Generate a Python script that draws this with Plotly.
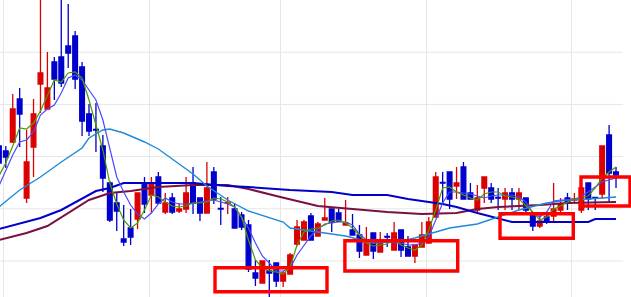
import plotly.graph_objects as go

# ---- data (price units are arbitrary; the chart shows no axis labels) ----
candle_idx = list(range(-1, 89))

opens = [154, 149, 158, 201, 102, 153, 216, 191, 238, 243,
         254, 264, 233, 186, 170.5, 154, 117, 97, 61, 72,
         81, 117, 105, 123, 88, 102, 89, 91, 117, 102,
         87, 128, 91.5, 97, 91, 85, 75, 27, 17, 29,
         37, 19, 26, 56, 60, 84, 64, 80, 91, 87,
         75, 70, 65, 45, 67, 48, 63.5, 50, 70, 53,
         44, 53, 57, 83, 117.5, 128, 114, 133, 107, 90,
         112, 112, 102.5, 101, 107, 101, 102, 85, 74, 83,
         84, 90, 102, 100, 90, 117, 102.5, 106, 165, 128]
highs = [157, 154, 206, 212, 170, 201, 303, 248, 243, 303,
         296, 269, 238, 196, 197, 165, 119, 108, 95, 91,
         107, 123, 123, 128, 107, 107, 97, 123, 133, 102,
         138, 133, 103, 103, 97, 88, 80, 40, 39, 40,
         37, 29, 47, 80, 80, 87, 78, 102, 91, 91,
         100, 86, 75, 73, 67, 68, 67, 78, 70, 64,
         55, 78, 83, 128, 128, 128, 133, 138, 117, 115,
         123, 117, 112, 112, 112, 112, 102, 85, 86, 87,
         117, 102, 107, 107, 112, 117, 103, 154, 175, 133]
lows = [135, 132, 157, 153, 97, 123, 187, 190, 200, 213,
        232, 211, 164, 164, 148, 108, 78, 69, 54, 55,
        71, 87, 87, 96, 86, 86, 87, 87, 86, 79,
        87, 96, 75, 86, 72, 70, 28, 14, 17, 2,
        13, 13, 26, 54, 60, 60, 64, 80, 68, 78,
        75, 65, 42, 45, 41, 48, 53, 50, 43, 44,
        37, 53, 57, 83, 95, 91, 101, 101, 101, 87,
        97, 97, 90, 90, 90, 90, 85, 69, 72, 76,
        77, 85, 90, 97, 87, 90, 90, 101, 97, 112]
closes = [137, 143, 191, 186, 138, 186, 227, 212, 221, 217,
          247, 221, 179, 169, 170, 122, 80, 89, 58, 63,
          107, 96, 117, 97, 97, 88, 91, 107, 97, 87,
          112, 101, 91, 97.5, 72, 73, 31, 22, 39, 27,
          19, 27, 45, 73, 78, 60, 76, 82, 78, 79,
          77, 65, 49, 57, 49, 57, 63, 67, 50, 44,
          55, 65, 78, 123, 117, 101, 117, 101, 101, 102,
          123, 101, 102, 107, 101, 107, 90, 74, 79, 78,
          91, 96, 97, 101, 112, 101, 102, 154, 127, 125]

# short moving average (green), one value per candle
ma_short = [124, 137, 154, 172, 171, 177, 189, 204, 220, 218,
            227, 228, 222, 200, 175, 150, 117, 96, 80, 72,
            77, 90, 105, 103, 98, 94, 93, 94, 97, 97,
            98, 102, 101, 98, 93, 83, 60, 40, 32, 29,
            28, 26, 33, 55, 68, 71, 72, 75, 79, 80,
            77, 72, 65, 57, 54, 55, 56, 61, 55, 52,
            50, 55, 70, 90, 112, 113, 108, 105, 102, 100,
            106, 108, 108, 104, 103, 101, 95, 88, 80, 83,
            91, 94, 98, 101, 103, 104, 112, 122, 128, 133]

# medium moving average (violet), one value per candle
ma_medium = [114, 130, 145, 158, 160, 168, 185, 191, 195, 207,
             222, 225, 220, 210, 200, 180, 150, 123, 108, 95,
             86, 81, 87, 96, 102, 98, 96, 96, 97, 98,
             99, 100, 98, 96, 93, 83, 72, 57, 44, 37,
             29, 29, 32, 45, 55, 64, 71, 76, 77, 78,
             78, 75, 66, 60, 57, 58, 58, 57, 57, 55,
             55, 57, 63, 80, 97, 108, 108, 107, 106, 104,
             102, 104, 105, 105, 105, 103, 98, 87, 83, 88,
             99, 100, 100, 100, 104, 108, 113, 118, 120, 122]

# longer moving averages, read at selected candles
ma_25_idx = [-1, 2, 5, 8, 11, 12, 14, 15, 17, 20, 22, 24, 27, 29, 32, 35, 39, 40, 41,
             45, 49, 53, 57, 59, 62, 64, 68, 71, 74, 78, 81, 84, 88]
ma_25 = [93, 110, 123, 138, 152, 162, 170, 171, 167, 158, 151, 141, 126, 114, 100, 89, 80, 78, 72,
         68, 64, 57, 59, 62, 68, 72, 76, 83, 90, 97, 100, 101, 103]

ma_75_idx = [-1, 5, 8, 11, 13, 15, 17, 27, 32, 35, 41, 47, 50, 55, 58, 63, 65, 68, 71, 73, 84, 85, 88]
ma_75 = [71, 82, 90, 101, 109, 112, 117, 117, 114, 113, 110, 108, 105, 105, 101, 96, 93, 87, 82, 78, 78, 81, 81]

ma_100_idx = [-1, 3, 6, 9, 12, 15, 18, 22, 27, 32, 35, 39, 45, 50, 55, 60, 65, 68, 71, 77, 81, 88]
ma_100 = [60, 67, 74, 87, 100, 107, 109, 113, 115, 115, 111, 104, 94, 91, 88, 86, 87, 91, 93, 95, 97, 98]

# vertical separators (month starts) and horizontal price grid
month_marks = [-0.36, 20.7, 39.6, 60.7, 81.6]
price_grid = [39, 91.2, 143.4, 195.6, 247.8]

# highlighted zones: (first candle, last candle, low price, high price)
highlight_zones = [
    (30.17, 46.32, 8.3, 32.3),
    (48.9, 65.17, 29.0, 59.3),
    (71.27, 81.84, 61.7, 86.3),
    (82.95, 90.02, 94.0, 123.0),
]

RED = "#dd0000"
BLUE = "#0000cc"

fig = go.Figure()

fig.add_trace(go.Candlestick(
    x=candle_idx, open=opens, high=highs, low=lows, close=closes,
    increasing=dict(line=dict(color=RED, width=1.3), fillcolor=RED),
    decreasing=dict(line=dict(color=BLUE, width=1.3), fillcolor=BLUE),
    whiskerwidth=0, hoverinfo="skip",
))

fig.add_trace(go.Scatter(x=ma_100_idx, y=ma_100, mode="lines",
                         line=dict(color="#7a1040", width=2)))
fig.add_trace(go.Scatter(x=ma_75_idx, y=ma_75, mode="lines",
                         line=dict(color="#0000c8", width=2)))
fig.add_trace(go.Scatter(x=ma_25_idx, y=ma_25, mode="lines",
                         line=dict(color="#1e8ad8", width=1.4)))
fig.add_trace(go.Scatter(x=candle_idx, y=ma_medium, mode="lines",
                         line=dict(color="#4a4aff", width=1.2)))
fig.add_trace(go.Scatter(x=candle_idx, y=ma_short, mode="lines",
                         line=dict(color="#4f9a00", width=1.2)))

shapes = []
for p in price_grid:
    shapes.append(dict(type="line", xref="paper", yref="y", x0=0, x1=623 / 631,
                       y0=p, y1=p, layer="below",
                       line=dict(color="#e6e6e6", width=1)))
for (x0, x1, y0, y1) in highlight_zones:
    shapes.append(dict(type="rect", xref="x", yref="y", x0=x0, x1=x1, y0=y0, y1=y1,
                       line=dict(color="#ff0000", width=3.4), fillcolor="rgba(0,0,0,0)",
                       layer="above"))

fig.update_layout(
    width=631, height=297,
    margin=dict(l=0, r=0, t=0, b=0),
    paper_bgcolor="white", plot_bgcolor="white",
    showlegend=False,
    boxgap=0.32, boxgroupgap=0,
    shapes=shapes,
    xaxis=dict(range=[-0.836, 90.16], rangeslider=dict(visible=False),
               tickmode="array", tickvals=month_marks, showticklabels=False,
               showgrid=True, gridcolor="#e6e6e6", gridwidth=1,
               zeroline=False, showline=False, ticks=""),
    yaxis=dict(range=[3, 300], showgrid=False, showticklabels=False,
               zeroline=False, showline=False, ticks=""),
)

fig.write_html("out.html")
